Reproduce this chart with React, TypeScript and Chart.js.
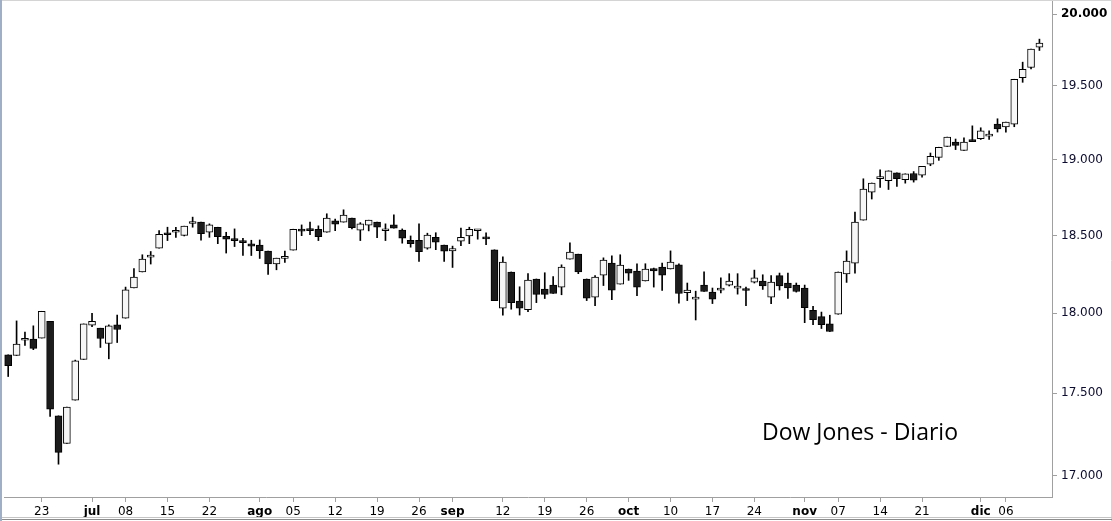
import React, { useEffect, useRef } from "react";
import { Chart, registerables } from "chart.js";

Chart.register(...registerables);

// Trading days (last one is an empty slot at the right edge)
const dates: string[] = [
  "2016-06-17","2016-06-20","2016-06-21","2016-06-22","2016-06-23","2016-06-24","2016-06-27","2016-06-28","2016-06-29","2016-06-30",
  "2016-07-01","2016-07-05","2016-07-06","2016-07-07","2016-07-08","2016-07-11","2016-07-12","2016-07-13","2016-07-14","2016-07-15",
  "2016-07-18","2016-07-19","2016-07-20","2016-07-21","2016-07-22","2016-07-25","2016-07-26","2016-07-27","2016-07-28","2016-07-29",
  "2016-08-01","2016-08-02","2016-08-03","2016-08-04","2016-08-05","2016-08-08","2016-08-09","2016-08-10","2016-08-11","2016-08-12",
  "2016-08-15","2016-08-16","2016-08-17","2016-08-18","2016-08-19","2016-08-22","2016-08-23","2016-08-24","2016-08-25","2016-08-26",
  "2016-08-29","2016-08-30","2016-08-31",
  "2016-09-01","2016-09-02","2016-09-06","2016-09-07","2016-09-08","2016-09-09","2016-09-12","2016-09-13","2016-09-14","2016-09-15",
  "2016-09-16","2016-09-19","2016-09-20","2016-09-21","2016-09-22","2016-09-23","2016-09-26","2016-09-27","2016-09-28","2016-09-29",
  "2016-09-30",
  "2016-10-03","2016-10-04","2016-10-05","2016-10-06","2016-10-07","2016-10-10","2016-10-11","2016-10-12","2016-10-13","2016-10-14",
  "2016-10-17","2016-10-18","2016-10-19","2016-10-20","2016-10-21","2016-10-24","2016-10-25","2016-10-26","2016-10-27","2016-10-28",
  "2016-10-31",
  "2016-11-01","2016-11-02","2016-11-03","2016-11-04","2016-11-07","2016-11-08","2016-11-09","2016-11-10","2016-11-11","2016-11-14",
  "2016-11-15","2016-11-16","2016-11-17","2016-11-18","2016-11-21","2016-11-22","2016-11-23","2016-11-25","2016-11-28","2016-11-29",
  "2016-11-30",
  "2016-12-01","2016-12-02","2016-12-05","2016-12-06","2016-12-07","2016-12-08","2016-12-09","2016-12-12","2016-12-13",
];

const opens: number[] = [
  17739,17735,17830,17838,17844,17950,17362,17194,17458,17710,
  17925,17906,17810,17927,17969,18161,18264,18360,18418,18515,
  18521,18501,18578,18587,18521,18554,18495,18476,18463,18445,
  18437,18398,18315,18352,18405,18541,18541,18541,18521,18596,
  18587,18613,18534,18567,18587,18531,18569,18536,18469,18469,
  18418,18488,18437,18400,18463,18497,18531,18488,18407,18032,
  18264,18077,18023,18219,18154,18180,18167,18347,18379,18219,
  18103,18244,18321,18186,18283,18270,18206,18285,18296,18283,
  18310,18132,18090,18180,18135,18148,18180,18160,18154,18199,
  18206,18103,18240,18193,18180,18161,18019,17979,17933,17994,
  18251,18321,18600,18785,18874,18860,18913,18867,18908,18897,
  18970,19016,19089,19118,19062,19136,19142,19159,19240,19220,
  19240,19557,19627,19768,
];

const highs: number[] = [
  17739,17952,17881,17921,18013,17950,17362,17415,17706,17933,
  18000,17906,17927,17989,18167,18285,18375,18396,18532,18554,
  18554,18561,18620,18587,18576,18554,18521,18543,18482,18469,
  18471,18398,18353,18398,18541,18569,18587,18563,18642,18607,
  18668,18613,18584,18600,18587,18576,18635,18543,18497,18576,
  18515,18518,18437,18431,18548,18554,18536,18518,18407,18362,
  18264,18169,18253,18219,18259,18235,18310,18452,18379,18219,
  18240,18355,18368,18375,18283,18317,18317,18289,18321,18400,
  18317,18193,18141,18265,18161,18227,18253,18253,18167,18276,
  18246,18240,18257,18257,18193,18180,18045,18008,17988,18264,
  18400,18653,18873,18845,18932,18926,18913,18906,18921,18956,
  19045,19084,19152,19139,19147,19228,19215,19194,19276,19253,
  19546,19664,19755,19824,
];

const lows: number[] = [
  17604,17735,17798,17771,17844,17358,17069,17194,17458,17710,
  17916,17785,17714,17816,17969,18161,18264,18315,18418,18467,
  18488,18497,18554,18469,18488,18447,18386,18428,18370,18370,
  18351,18248,18278,18325,18405,18499,18505,18467,18521,18532,
  18587,18543,18467,18530,18486,18467,18547,18450,18424,18332,
  18411,18408,18332,18293,18434,18447,18476,18441,18081,17989,
  18026,17989,18010,18068,18094,18126,18118,18347,18253,18081,
  18049,18177,18087,18186,18210,18113,18206,18167,18145,18283,
  18064,18081,17958,18139,18062,18129,18174,18122,18049,18193,
  18152,18062,18148,18094,18135,17941,17929,17904,17885,17994,
  18197,18257,18600,18739,18815,18802,18822,18844,18851,18884,
  18960,18996,19089,19068,19062,19122,19136,19136,19186,19186,
  19222,19525,19618,19745,
];

const closes: number[] = [
  17672,17806,17832,17779,18013,17403,17140,17415,17702,17933,
  17950,17841,17921,17898,18150,18231,18347,18373,18508,18505,
  18534,18561,18591,18512,18569,18492,18476,18467,18454,18431,
  18402,18315,18353,18354,18541,18528,18532,18492,18613,18574,
  18633,18551,18576,18600,18554,18533,18547,18482,18447,18395,
  18503,18456,18398,18415,18488,18541,18533,18478,18081,18328,
  18068,18032,18212,18120,18120,18126,18296,18392,18264,18096,
  18231,18341,18148,18308,18257,18167,18283,18270,18244,18328,
  18126,18148,18103,18139,18090,18161,18206,18162,18145,18227,
  18174,18199,18174,18161,18139,18036,17960,17929,17885,18264,
  18334,18587,18805,18845,18876,18926,18873,18906,18864,18956,
  19023,19084,19152,19096,19118,19122,19194,19172,19208,19253,
  19546,19615,19755,19796,
];

const yTicks: number[] = [17000, 17500, 18000, 18500, 19000, 19500, 20000];

const xTickLabels: Record<string, string> = {
  "2016-06-23": "23",
  "2016-07-01": "jul",
  "2016-07-08": "08",
  "2016-07-15": "15",
  "2016-07-22": "22",
  "2016-08-01": "ago",
  "2016-08-05": "05",
  "2016-08-12": "12",
  "2016-08-19": "19",
  "2016-08-26": "26",
  "2016-09-01": "sep",
  "2016-09-12": "12",
  "2016-09-19": "19",
  "2016-09-26": "26",
  "2016-10-03": "oct",
  "2016-10-10": "10",
  "2016-10-17": "17",
  "2016-10-24": "24",
  "2016-11-01": "nov",
  "2016-11-07": "07",
  "2016-11-14": "14",
  "2016-11-21": "21",
  "2016-12-01": "dic",
  "2016-12-06": "06",
};
const monthLabels: string[] = ["jul", "ago", "sep", "oct", "nov", "dic"];

const TITLE = "Dow Jones - Diario";

const fmtThousands = (v: number) =>
  String(Math.round(v)).replace(/\B(?=(\d{3})+(?!\d))/g, ".");

const framePlugin = {
  id: "frame",
  afterDraw(chart: any) {
    const { ctx, width, height } = chart;
    ctx.save();
    ctx.lineWidth = 1;
    ctx.strokeStyle = "#d4d4d4";
    ctx.beginPath();
    ctx.moveTo(0, 0.5);
    ctx.lineTo(width, 0.5);
    ctx.moveTo(width - 0.5, 0);
    ctx.lineTo(width - 0.5, height);
    ctx.stroke();
    ctx.strokeStyle = "#c4c4c4";
    ctx.beginPath();
    ctx.moveTo(0, height - 3.5);
    ctx.lineTo(width, height - 3.5);
    ctx.stroke();
    ctx.strokeStyle = "#8c8c8c";
    ctx.beginPath();
    ctx.moveTo(0, height - 1.5);
    ctx.lineTo(width, height - 1.5);
    ctx.stroke();
    ctx.lineWidth = 2;
    ctx.strokeStyle = "#9fb0c6";
    ctx.beginPath();
    ctx.moveTo(1, 0);
    ctx.lineTo(1, height);
    ctx.stroke();
    ctx.restore();
  },
};

export default function App() {
  const canvasRef = useRef<HTMLCanvasElement | null>(null);

  useEffect(() => {
    document.body.style.margin = "0";
    const canvas = canvasRef.current;
    if (!canvas) return;

    const n = opens.length;
    const bodies = opens.map((o, i) => [o, closes[i]]);
    const wicks = lows.map((l, i) => [l, highs[i]]);
    const isUp = (i: number) => i < n && closes[i] >= opens[i];
    const labelAt = (i: number) => xTickLabels[dates[i]] ?? "";

    const chart = new Chart(canvas, {
      type: "bar",
      data: {
        labels: dates,
        datasets: [
          {
            label: "body",
            data: bodies as any,
            order: 0,
            grouped: false,
            barThickness: 7,
            minBarLength: 2,
            borderWidth: 1,
            borderSkipped: false,
            borderColor: "#000000",
            backgroundColor: (ctx: any) =>
              isUp(ctx.dataIndex) ? "#f6f6f6" : "#1c1c1c",
          } as any,
          {
            label: "wick",
            data: wicks as any,
            order: 1,
            grouped: false,
            barThickness: 1,
            borderWidth: 0,
            backgroundColor: "#000000",
          } as any,
        ],
      },
      options: {
        animation: false,
        responsive: false,
        maintainAspectRatio: false,
        events: [],
        layout: { padding: { left: 4, top: 0, right: 0, bottom: 0 } },
        plugins: {
          legend: { display: false },
          tooltip: { enabled: false },
          title: { display: false },
        },
        scales: {
          x: {
            type: "category",
            offset: true,
            grid: {
              display: true,
              drawOnChartArea: false,
              drawTicks: true,
              tickLength: 5,
              offset: false,
              color: "rgba(0,0,0,0)",
              tickColor: (ctx: any) =>
                labelAt(ctx.index) ? "#a0a0a0" : "rgba(0,0,0,0)",
            },
            border: { display: true, color: "#a0a0a0", width: 1 },
            ticks: {
              autoSkip: false,
              maxRotation: 0,
              minRotation: 0,
              padding: 3,
              color: "#000000",
              callback: (_v: any, i: number) => labelAt(i),
              font: (ctx: any) => ({
                family: "'DejaVu Sans', Verdana, sans-serif",
                size: 12,
                weight: monthLabels.includes(labelAt(ctx.index)) ? "bold" : "normal",
              }),
            },
            afterFit: (s: any) => {
              s.height = 24;
              s.paddingLeft = 0;
              s.paddingRight = 0;
            },
          } as any,
          y: {
            type: "logarithmic",
            position: "right",
            min: 16873,
            max: 20099,
            bounds: "data",
            afterBuildTicks: (s: any) => {
              s.ticks = yTicks.map((v) => ({ value: v }));
            },
            grid: {
              display: true,
              drawOnChartArea: false,
              drawTicks: true,
              tickLength: 5,
              color: "#a0a0a0",
            },
            border: { display: true, color: "#a0a0a0", width: 1 },
            ticks: {
              padding: 4,
              color: (ctx: any) =>
                ctx.tick && ctx.tick.value === 20000 ? "#000000" : "#0c0c30",
              callback: (v: any) => fmtThousands(Number(v)),
              font: (ctx: any) => ({
                family: "'DejaVu Sans', Verdana, sans-serif",
                size: 12,
                weight: ctx.tick && ctx.tick.value === 20000 ? "bold" : "normal",
              }),
            },
            afterFit: (s: any) => {
              s.width = 60;
              s.paddingTop = 0;
              s.paddingBottom = 0;
            },
          } as any,
        },
      },
      plugins: [framePlugin],
    });

    return () => chart.destroy();
  }, []);

  return (
    <div style={{ position: "relative", width: 1112, height: 521, background: "#ffffff" }}>
      <canvas ref={canvasRef} width={1112} height={521} style={{ display: "block", width: 1112, height: 521 }} />
      <div
        style={{
          position: "absolute",
          left: 762,
          top: 416,
          fontFamily: "'Open Sans', 'Noto Sans', sans-serif",
          fontSize: 23,
          lineHeight: "30px",
          color: "#000000",
          whiteSpace: "nowrap",
        }}
      >
        {TITLE}
      </div>
    </div>
  );
}
